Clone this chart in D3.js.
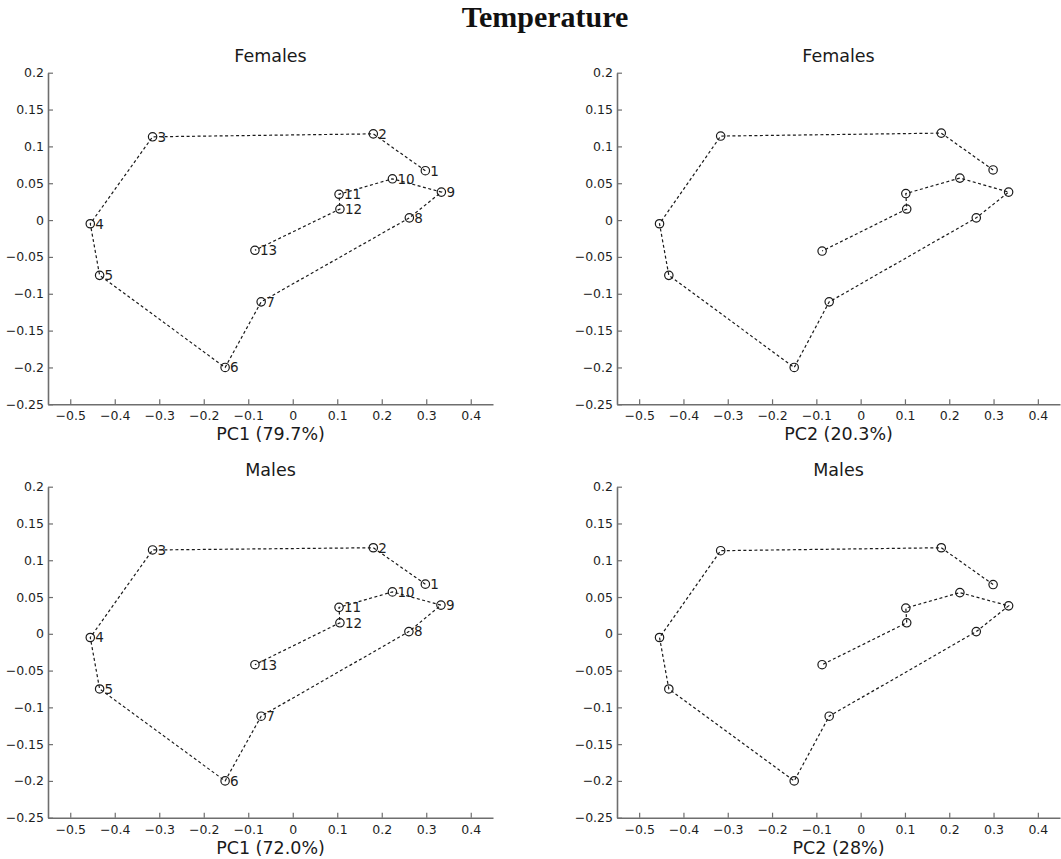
<!DOCTYPE html>
<html>
<head>
<meta charset="utf-8">
<script src="https://cdn.jsdelivr.net/npm/d3@7"></script>
<style>
  html, body { margin: 0; padding: 0; background: #fff; }
  svg { display: block; }
</style>
</head>
<body>
<svg id="chart" width="1061" height="859"></svg>
<script>
// ---- Data ----
const pointLabels = ["1","2","3","4","5","6","7","8","9","10","11","12","13"];

const femalesPC1X = [0.298, 0.181, -0.315, -0.455, -0.434, -0.152, -0.071, 0.262, 0.334, 0.224, 0.104, 0.106, -0.085];
const femalesPC1Y = [0.067, 0.117, 0.113, -0.005, -0.075, -0.200, -0.111, 0.003, 0.038, 0.056, 0.035, 0.015, -0.041];

const femalesPC2X = [0.299, 0.182, -0.316, -0.454, -0.433, -0.150, -0.071, 0.261, 0.334, 0.224, 0.102, 0.104, -0.087];
const femalesPC2Y = [0.068, 0.118, 0.114, -0.005, -0.075, -0.200, -0.111, 0.003, 0.038, 0.057, 0.036, 0.015, -0.042];

const malesPC1X = [0.298, 0.181, -0.315, -0.455, -0.434, -0.152, -0.071, 0.261, 0.333, 0.224, 0.104, 0.106, -0.085];
const malesPC1Y = [0.0675, 0.117, 0.114, -0.005, -0.075, -0.200, -0.112, 0.003, 0.039, 0.057, 0.036, 0.015, -0.042];

const malesPC2X = [0.299, 0.182, -0.316, -0.454, -0.433, -0.150, -0.071, 0.261, 0.334, 0.224, 0.102, 0.104, -0.087];
const malesPC2Y = [0.067, 0.117, 0.113, -0.005, -0.075, -0.200, -0.112, 0.003, 0.038, 0.056, 0.035, 0.015, -0.042];

const xTicks = [-0.5, -0.4, -0.3, -0.2, -0.1, 0, 0.1, 0.2, 0.3, 0.4];
const yTicks = [0.2, 0.15, 0.1, 0.05, 0, -0.05, -0.1, -0.15, -0.2, -0.25];
const xDomain = [-0.55, 0.45];
const yDomain = [-0.25, 0.2];

const mainTitle = "Temperature";
const panelTitles = ["Females", "Females", "Males", "Males"];
const axisLabels = ["PC1 (79.7%)", "PC2 (20.3%)", "PC1 (72.0%)", "PC2 (28%)"];

// ---- Layout ----
const panels = [
  { xs: femalesPC1X, ys: femalesPC1Y, title: panelTitles[0], xlabel: axisLabels[0], left: 48,  right: 493,  top: 72.7,  bottom: 404.3, labels: true },
  { xs: femalesPC2X, ys: femalesPC2Y, title: panelTitles[1], xlabel: axisLabels[1], left: 617, right: 1060, top: 72.7,  bottom: 404.3, labels: false },
  { xs: malesPC1X,   ys: malesPC1Y,   title: panelTitles[2], xlabel: axisLabels[2], left: 48,  right: 493,  top: 486.7, bottom: 817.7, labels: true },
  { xs: malesPC2X,   ys: malesPC2Y,   title: panelTitles[3], xlabel: axisLabels[3], left: 617, right: 1060, top: 486.7, bottom: 817.7, labels: false }
];

const svg = d3.select("#chart");
const FONT = "'DejaVu Sans', Verdana, sans-serif";
const axisColor = "#6e6e6e";
const textColor = "#1e1e1e";

svg.append("text")
  .attr("x", 545).attr("y", 27)
  .attr("text-anchor", "middle")
  .attr("font-family", "'Liberation Serif', 'Times New Roman', serif")
  .attr("font-weight", "bold")
  .attr("font-size", 30)
  .attr("fill", "#111")
  .text(mainTitle);

const fmt = v => {
  if (v === 0) return "0";
  const s = String(Math.abs(+v.toFixed(2)));
  return (v < 0 ? "\u2212" : "") + s;
};

panels.forEach(p => {
  const x = d3.scaleLinear().domain(xDomain).range([p.left, p.right]);
  const y = d3.scaleLinear().domain(yDomain).range([p.bottom, p.top]);
  const g = svg.append("g");

  // x axis (ticks inward)
  const xAxis = g.append("g")
    .attr("transform", `translate(0,${p.bottom})`)
    .call(d3.axisBottom(x).tickValues(xTicks).tickSizeInner(-5).tickSizeOuter(0).tickFormat(fmt));
  // y axis (ticks inward)
  const yAxis = g.append("g")
    .attr("transform", `translate(${p.left},0)`)
    .call(d3.axisLeft(y).tickValues(yTicks).tickSizeInner(-5).tickSizeOuter(0).tickFormat(fmt));

  [xAxis, yAxis].forEach(a => {
    a.select(".domain").attr("stroke", axisColor).attr("stroke-width", 1.6);
    a.selectAll(".tick line").attr("stroke", axisColor).attr("stroke-width", 1.2);
    a.selectAll(".tick text")
      .attr("font-family", FONT).attr("font-size", 12.5).attr("fill", textColor);
  });
  xAxis.selectAll(".tick text").attr("y", 7);
  yAxis.selectAll(".tick text").attr("x", -4);

  // title
  g.append("text")
    .attr("x", (p.left + p.right) / 2).attr("y", p.top - 11)
    .attr("text-anchor", "middle")
    .attr("font-family", FONT).attr("font-size", 17.5)
    .attr("fill", "#1a1a1a")
    .text(p.title);

  // x label
  g.append("text")
    .attr("x", (p.left + p.right) / 2).attr("y", p.bottom + 36)
    .attr("text-anchor", "middle")
    .attr("font-family", FONT).attr("font-size", 17.5)
    .attr("fill", "#1a1a1a")
    .text(p.xlabel);

  const pts = p.xs.map((v, i) => ({ x: v, y: p.ys[i], label: pointLabels[i] }));

  g.append("path")
    .datum(pts)
    .attr("fill", "none")
    .attr("stroke", "#1a1a1a")
    .attr("stroke-width", 1.2)
    .attr("stroke-dasharray", "3,2.5")
    .attr("d", d3.line().x(d => x(d.x)).y(d => y(d.y)));

  g.selectAll("circle.pt").data(pts).enter().append("circle")
    .attr("class", "pt")
    .attr("cx", d => x(d.x)).attr("cy", d => y(d.y))
    .attr("r", 4.2)
    .attr("fill", "none")
    .attr("stroke", "#1a1a1a")
    .attr("stroke-width", 1.2);

  if (p.labels) {
    g.selectAll("text.pl").data(pts).enter().append("text")
      .attr("class", "pl")
      .attr("x", d => x(d.x) + 5).attr("y", d => y(d.y))
      .attr("dy", "0.36em")
      .attr("font-family", FONT).attr("font-size", 13.5)
      .attr("fill", textColor)
      .text(d => d.label);
  }
});
</script>
</body>
</html>
